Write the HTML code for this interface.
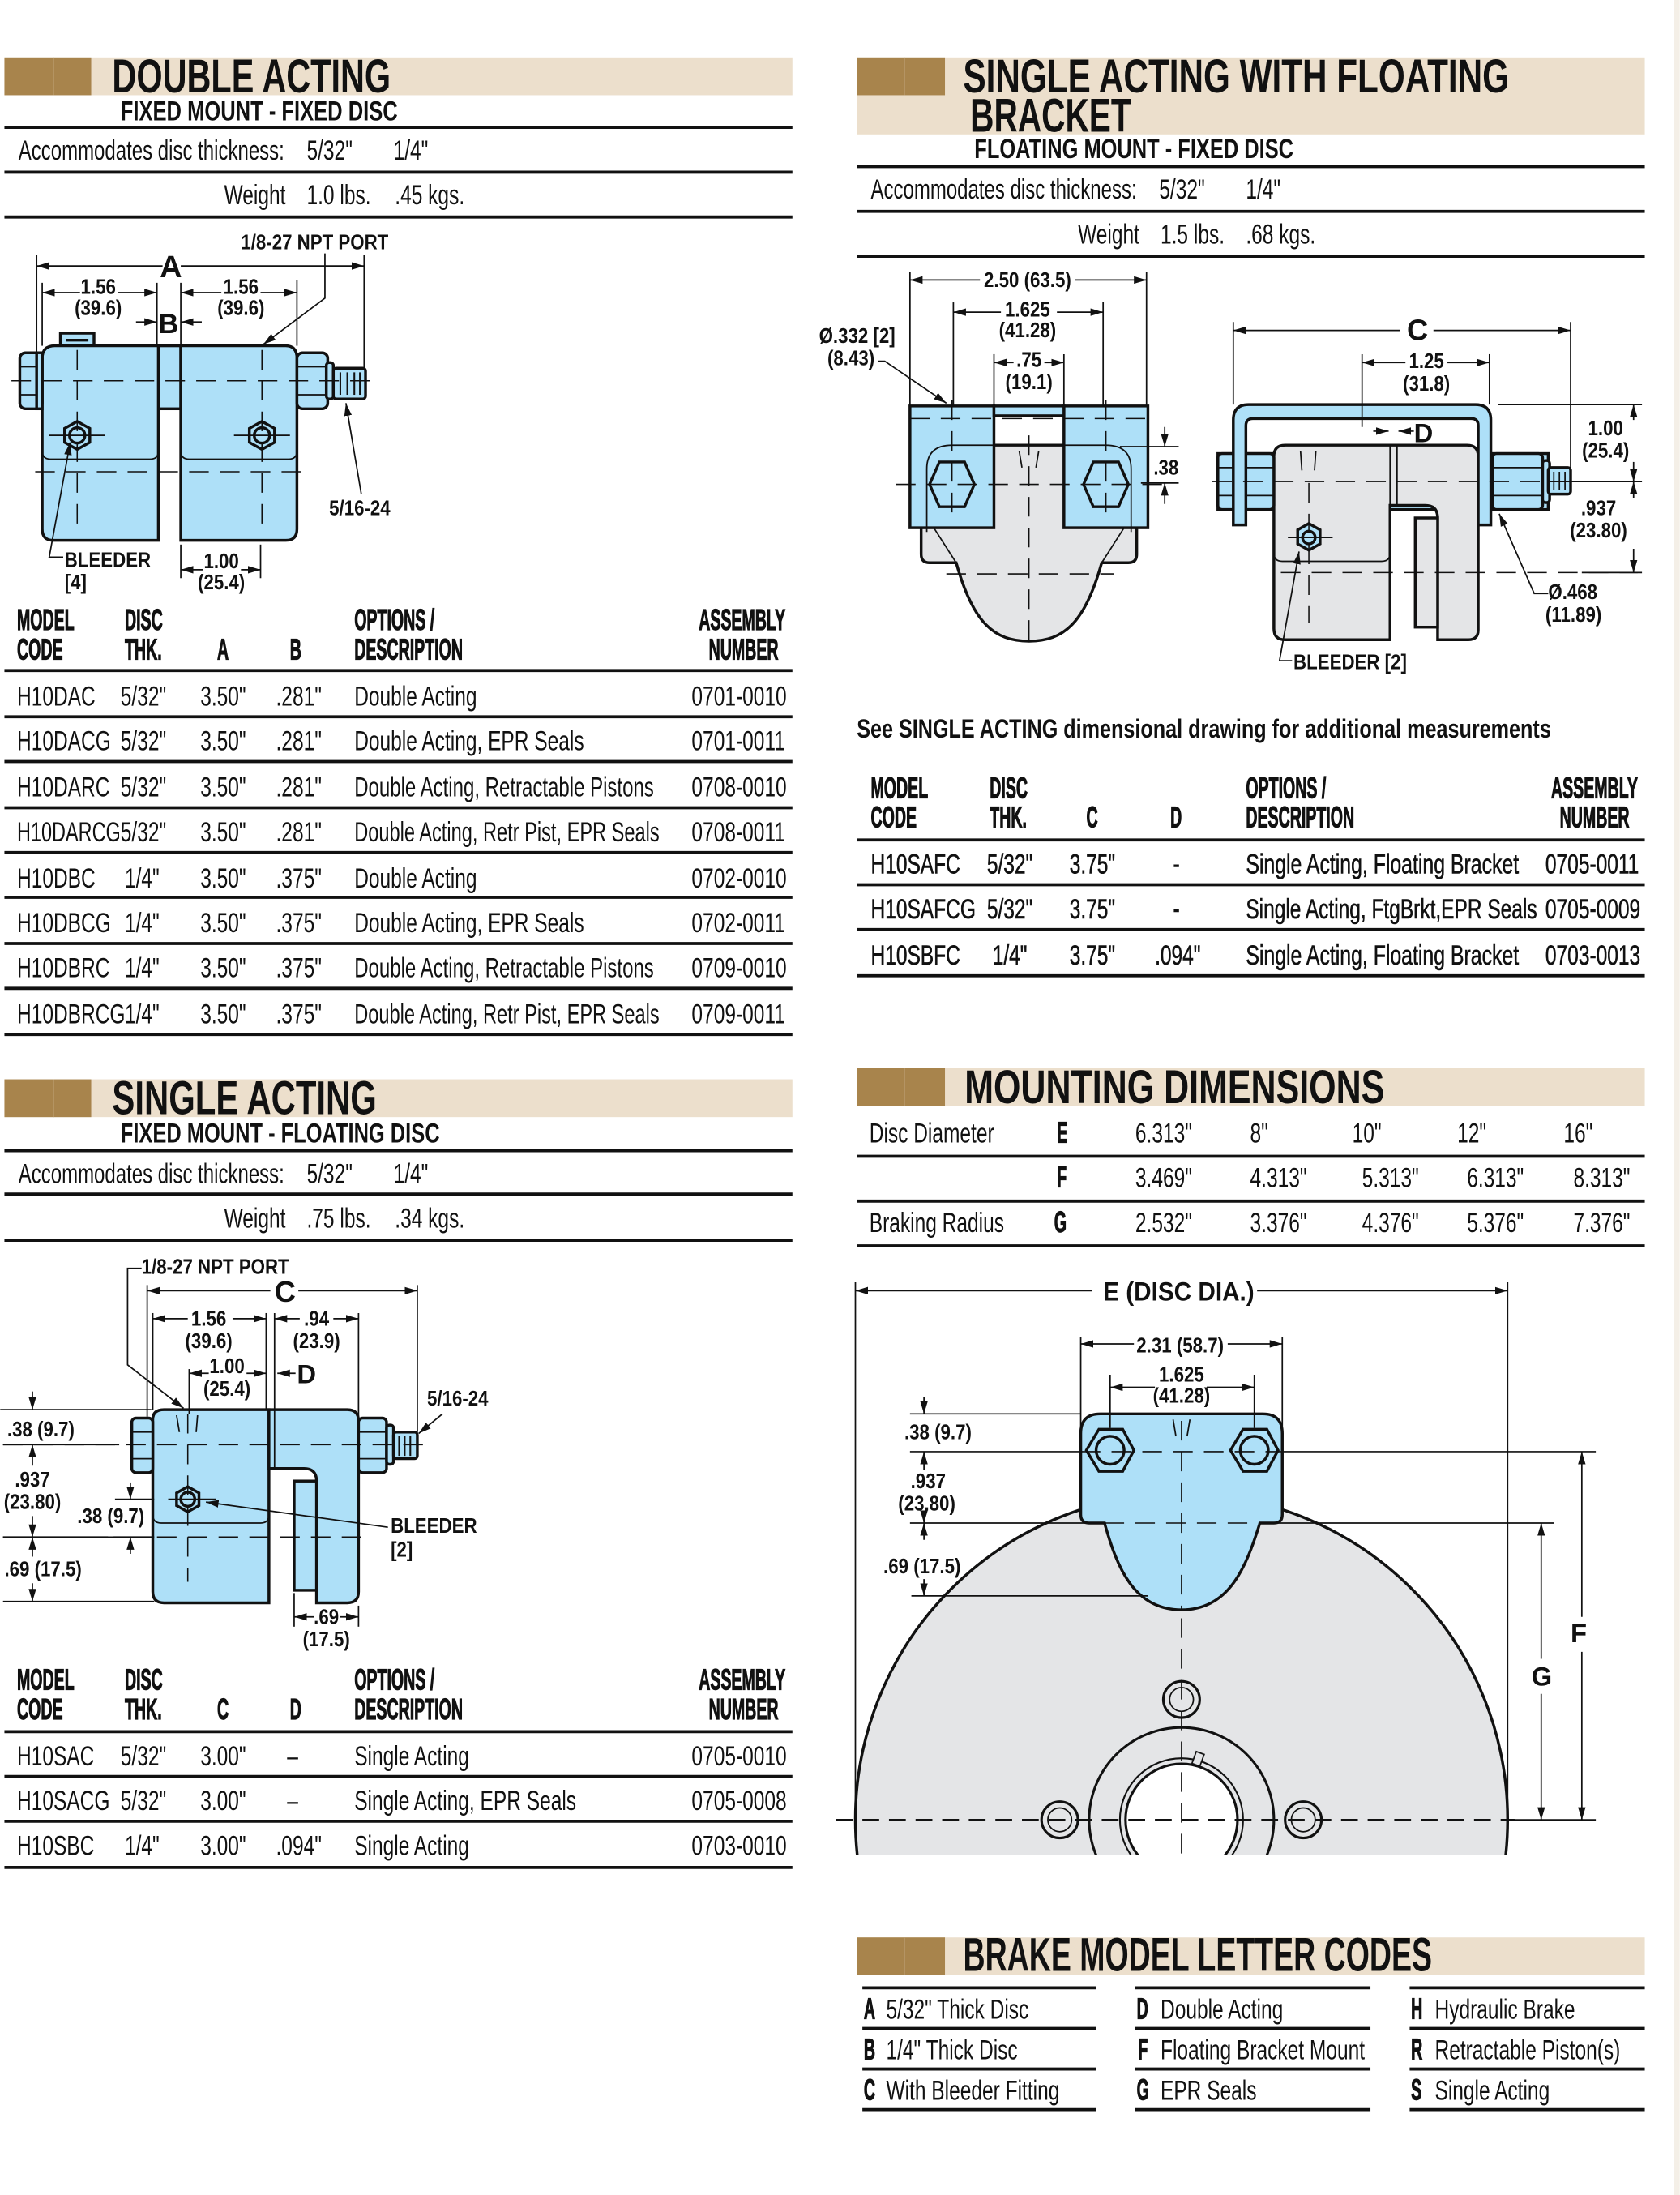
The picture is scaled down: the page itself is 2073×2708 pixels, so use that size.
<!DOCTYPE html>
<html><head><meta charset="utf-8"><style>
html,body{margin:0;padding:0;background:#fff}
svg{display:block}
text{font-family:"Liberation Sans",Arial,sans-serif;fill:#111;transform-box:fill-box;transform-origin:left center}
text[text-anchor="middle"]{transform-origin:center center}
text[text-anchor="end"]{transform-origin:right center}
.r{font-size:20px;transform:scaleX(.71)}
.m{font-size:20px;stroke:#111;stroke-width:.35;transform:scaleX(.71)}
.h{font-size:21px;font-weight:bold;stroke:#111;stroke-width:.7;transform:scaleX(.54)}
.T{font-size:34px;font-weight:bold}
.S{font-size:20px;font-weight:bold}
.d{font-size:15px;font-weight:bold;transform:scaleX(.86)}
text[textLength]{transform:none}
.ln{stroke:#111;stroke-width:2.2}
.th{stroke:#111;stroke-width:1;fill:none}
.dl{stroke:#111;stroke-width:1;fill:none}
.cl{stroke:#111;stroke-width:.9;stroke-dasharray:14 8;fill:none}
.bl{fill:#aee0f8;stroke:#111;stroke-width:2}
.gr{fill:#e4e5e7;stroke:#111;stroke-width:2}
</style></head><body>
<svg width="2073" height="2708" viewBox="0 0 1200 1568" xmlns="http://www.w3.org/2000/svg">
<defs>
<marker id="a" viewBox="0 0 10 6" refX="10" refY="3" markerWidth="9" markerHeight="5.5" markerUnits="userSpaceOnUse" orient="auto-start-reverse"><path d="M0,0 L10,3 L0,6 Z" fill="#111"/></marker>
<clipPath id="cp"><rect x="590" y="900" width="600" height="425"/></clipPath>
</defs>
<rect width="1200" height="1568" fill="#fff"/>

<!-- ============ DOUBLE ACTING ============ -->
<rect x="3" y="41" width="563" height="27" fill="#ecdfcc"/>
<rect x="3" y="41" width="62" height="27" fill="#a8844c"/>
<line x1="38" y1="41" x2="38" y2="68" stroke="#b8996a" stroke-width="1"/>
<text class="T" x="80" y="66" textLength="199" lengthAdjust="spacingAndGlyphs">DOUBLE ACTING</text>
<text class="S" x="86" y="86" textLength="198" lengthAdjust="spacingAndGlyphs">FIXED MOUNT - FIXED DISC</text>
<line class="ln" x1="3" y1="91" x2="566" y2="91"/>
<text class="r" x="13" y="114" textLength="190" lengthAdjust="spacingAndGlyphs">Accommodates disc thickness:</text>
<text class="r" x="219" y="114">5/32"</text><text class="r" x="281" y="114">1/4"</text>
<line class="ln" x1="3" y1="123" x2="566" y2="123"/>
<text class="r" x="160" y="146">Weight</text><text class="r" x="219" y="146">1.0 lbs.</text><text class="r" x="282" y="146">.45 kgs.</text>
<line class="ln" x1="3" y1="155" x2="566" y2="155"/>

<!-- drawing 1 -->
<g>
<rect class="bl" x="43" y="238" width="24" height="10"/>
<line x1="47" y1="243" x2="63" y2="243" stroke="#111" stroke-width="2"/>
<rect class="bl" x="113" y="247" width="16" height="45"/>
<path class="bl" d="M30,256 Q30,247 39,247 L113,247 L113,386 L38,386 Q30,386 30,378 Z"/>
<path class="bl" d="M129,247 L204,247 Q212,247 212,256 L212,378 Q212,386 204,386 L129,386 Z"/>
<path class="th" d="M30,322 Q30,328 36,328 L107,328 Q113,328 113,322"/>
<path class="th" d="M129,322 Q129,328 135,328 L206,328 Q212,328 212,322"/>
<rect class="bl" x="14" y="252" width="16" height="40" rx="4"/>
<line class="th" x1="14" y1="262" x2="30" y2="262"/><line class="th" x1="14" y1="282" x2="30" y2="282"/>
<rect class="bl" x="26" y="252" width="4" height="40"/>
<rect class="bl" x="212" y="252" width="22" height="40" rx="4"/>
<line class="th" x1="212" y1="262" x2="234" y2="262"/><line class="th" x1="212" y1="282" x2="234" y2="282"/>
<rect class="bl" x="233" y="259" width="5" height="26" rx="2"/>
<rect class="bl" x="238" y="263" width="23" height="22" rx="2"/>
<g stroke="#111" stroke-width="1.2"><line x1="243" y1="266" x2="243" y2="282"/><line x1="248" y1="266" x2="248" y2="282"/><line x1="253" y1="266" x2="253" y2="282"/><line x1="257" y1="266" x2="257" y2="282"/></g>
<polygon class="bl" points="55,301 64,306 64,316 55,321 46,316 46,306"/><circle class="bl" cx="55" cy="311" r="5.5"/>
<polygon class="bl" points="187,301 196,306 196,316 187,321 178,316 178,306"/><circle class="bl" cx="187" cy="311" r="5.5"/>
<line class="cl" x1="8" y1="272" x2="268" y2="272"/>
<line class="cl" x1="25" y1="337" x2="218" y2="337"/>
<line class="cl" x1="55" y1="250" x2="55" y2="380"/>
<line class="cl" x1="187" y1="250" x2="187" y2="380"/>
<line class="th" x1="35" y1="311" x2="75" y2="311"/><line class="th" x1="167" y1="311" x2="207" y2="311"/>
<line class="dl" x1="26" y1="182" x2="26" y2="252"/><line class="dl" x1="30" y1="202" x2="30" y2="247"/>
<line class="dl" x1="112" y1="202" x2="112" y2="247"/><line class="dl" x1="129" y1="202" x2="129" y2="247"/>
<line class="dl" x1="212" y1="200" x2="212" y2="247"/><line class="dl" x1="260" y1="182" x2="260" y2="263"/>
<line class="dl" x1="26" y1="190" x2="116" y2="190" marker-start="url(#a)"/>
<line class="dl" x1="129" y1="190" x2="260" y2="190" marker-end="url(#a)"/>
<text x="114" y="198" font-size="22" font-weight="bold">A</text>
<line class="dl" x1="30" y1="209" x2="57" y2="209" marker-start="url(#a)"/><line class="dl" x1="84" y1="209" x2="112" y2="209" marker-end="url(#a)"/>
<text class="d" x="70" y="210" text-anchor="middle">1.56</text><text class="d" x="70" y="225" text-anchor="middle">(39.6)</text>
<line class="dl" x1="129" y1="209" x2="158" y2="209" marker-start="url(#a)"/><line class="dl" x1="186" y1="209" x2="212" y2="209" marker-end="url(#a)"/>
<text class="d" x="172" y="210" text-anchor="middle">1.56</text><text class="d" x="172" y="225" text-anchor="middle">(39.6)</text>
<line class="dl" x1="97" y1="230" x2="112" y2="230" marker-end="url(#a)"/><line class="dl" x1="144" y1="230" x2="129" y2="230" marker-end="url(#a)"/>
<text x="113" y="238" font-size="20" font-weight="bold">B</text>
<text class="d" x="172" y="178">1/8-27 NPT PORT</text>
<polyline class="dl" points="232,181 232,213 188,246" marker-end="url(#a)"/>
<text class="d" x="235" y="368">5/16-24</text>
<line class="dl" x1="258" y1="353" x2="247" y2="288" marker-end="url(#a)"/>
<polyline class="dl" points="45,398 35,398 50,316" marker-end="url(#a)"/>
<text class="d" x="46" y="405">BLEEDER</text><text class="d" x="46" y="421">[4]</text>
<line class="dl" x1="129" y1="389" x2="129" y2="413"/><line class="dl" x1="186" y1="389" x2="186" y2="413"/>
<line class="dl" x1="129" y1="407" x2="145" y2="407" marker-start="url(#a)"/><line class="dl" x1="172" y1="407" x2="186" y2="407" marker-end="url(#a)"/>
<text class="d" x="158" y="406" text-anchor="middle">1.00</text><text class="d" x="158" y="421" text-anchor="middle">(25.4)</text>
</g>

<!-- table 1 -->
<text class="h" x="12" y="450">MODEL</text><text class="h" x="12" y="471">CODE</text>
<text class="h" x="89" y="450">DISC</text><text class="h" x="89" y="471">THK.</text>
<text class="h" x="155" y="471">A</text><text class="h" x="207" y="471">B</text>
<text class="h" x="253" y="450">OPTIONS /</text><text class="h" x="253" y="471">DESCRIPTION</text>
<text class="h" x="561" y="450" text-anchor="end">ASSEMBLY</text><text class="h" x="556" y="471" text-anchor="end">NUMBER</text>
<line class="ln" x1="3" y1="479" x2="566" y2="479"/>
<text class="r" x="12" y="504">H10DAC</text><text class="r" x="86" y="504">5/32"</text><text class="r" x="143" y="504">3.50"</text><text class="r" x="197" y="504">.281"</text><text class="r" x="253" y="504">Double Acting</text><text class="r" x="494" y="504">0701-0010</text>
<text class="r" x="12" y="536">H10DACG</text><text class="r" x="86" y="536">5/32"</text><text class="r" x="143" y="536">3.50"</text><text class="r" x="197" y="536">.281"</text><text class="r" x="253" y="536">Double Acting, EPR Seals</text><text class="r" x="494" y="536">0701-0011</text>
<text class="r" x="12" y="569">H10DARC</text><text class="r" x="86" y="569">5/32"</text><text class="r" x="143" y="569">3.50"</text><text class="r" x="197" y="569">.281"</text><text class="r" x="253" y="569" textLength="214" lengthAdjust="spacingAndGlyphs">Double Acting, Retractable Pistons</text><text class="r" x="494" y="569">0708-0010</text>
<text class="r" x="12" y="601" textLength="74" lengthAdjust="spacingAndGlyphs">H10DARCG</text><text class="r" x="86" y="601">5/32"</text><text class="r" x="143" y="601">3.50"</text><text class="r" x="197" y="601">.281"</text><text class="r" x="253" y="601" textLength="218" lengthAdjust="spacingAndGlyphs">Double Acting, Retr Pist, EPR Seals</text><text class="r" x="494" y="601">0708-0011</text>
<text class="r" x="12" y="634">H10DBC</text><text class="r" x="89" y="634">1/4"</text><text class="r" x="143" y="634">3.50"</text><text class="r" x="197" y="634">.375"</text><text class="r" x="253" y="634">Double Acting</text><text class="r" x="494" y="634">0702-0010</text>
<text class="r" x="12" y="666">H10DBCG</text><text class="r" x="89" y="666">1/4"</text><text class="r" x="143" y="666">3.50"</text><text class="r" x="197" y="666">.375"</text><text class="r" x="253" y="666">Double Acting, EPR Seals</text><text class="r" x="494" y="666">0702-0011</text>
<text class="r" x="12" y="698">H10DBRC</text><text class="r" x="89" y="698">1/4"</text><text class="r" x="143" y="698">3.50"</text><text class="r" x="197" y="698">.375"</text><text class="r" x="253" y="698" textLength="214" lengthAdjust="spacingAndGlyphs">Double Acting, Retractable Pistons</text><text class="r" x="494" y="698">0709-0010</text>
<text class="r" x="12" y="731">H10DBRCG</text><text class="r" x="89" y="731">1/4"</text><text class="r" x="143" y="731">3.50"</text><text class="r" x="197" y="731">.375"</text><text class="r" x="253" y="731" textLength="218" lengthAdjust="spacingAndGlyphs">Double Acting, Retr Pist, EPR Seals</text><text class="r" x="494" y="731">0709-0011</text>
<g class="ln"><line x1="3" y1="512" x2="566" y2="512"/><line x1="3" y1="544" x2="566" y2="544"/><line x1="3" y1="577" x2="566" y2="577"/><line x1="3" y1="609" x2="566" y2="609"/><line x1="3" y1="641" x2="566" y2="641"/><line x1="3" y1="674" x2="566" y2="674"/><line x1="3" y1="706" x2="566" y2="706"/><line x1="3" y1="739" x2="566" y2="739"/></g>

<!-- ============ SINGLE ACTING ============ -->
<rect x="3" y="771" width="563" height="27" fill="#ecdfcc"/>
<rect x="3" y="771" width="62" height="27" fill="#a8844c"/>
<line x1="38" y1="771" x2="38" y2="798" stroke="#b8996a" stroke-width="1"/>
<text class="T" x="80" y="796" textLength="189" lengthAdjust="spacingAndGlyphs">SINGLE ACTING</text>
<text class="S" x="86" y="816" textLength="228" lengthAdjust="spacingAndGlyphs">FIXED MOUNT - FLOATING DISC</text>
<line class="ln" x1="3" y1="822" x2="566" y2="822"/>
<text class="r" x="13" y="845" textLength="190" lengthAdjust="spacingAndGlyphs">Accommodates disc thickness:</text>
<text class="r" x="219" y="845">5/32"</text><text class="r" x="281" y="845">1/4"</text>
<line class="ln" x1="3" y1="853" x2="566" y2="853"/>
<text class="r" x="160" y="877">Weight</text><text class="r" x="219" y="877">.75 lbs.</text><text class="r" x="282" y="877">.34 kgs.</text>
<line class="ln" x1="3" y1="886" x2="566" y2="886"/>

<!-- drawing 2 -->
<g>
<path class="bl" d="M109,1014 Q109,1007 117,1007 L192,1007 L192,1145 L117,1145 Q109,1145 109,1137 Z"/>
<path class="bl" d="M192,1007 L248,1007 Q256,1007 256,1015 L256,1137 Q256,1145 248,1145 L226,1145 L226,1058 Q226,1049 217,1049 L192,1049 Z"/>
<line class="th" x1="196" y1="1007" x2="196" y2="1049"/>
<rect class="bl" x="210" y="1058" width="16" height="78"/>
<path class="th" d="M109,1082 Q109,1088 115,1088 L186,1088 Q192,1088 192,1082"/>
<rect class="bl" x="94" y="1013" width="15" height="39" rx="3"/>
<line class="th" x1="94" y1="1023" x2="109" y2="1023"/><line class="th" x1="94" y1="1042" x2="109" y2="1042"/>
<rect class="bl" x="256" y="1013" width="20" height="39" rx="3"/>
<line class="th" x1="256" y1="1023" x2="276" y2="1023"/><line class="th" x1="256" y1="1042" x2="276" y2="1042"/>
<rect class="bl" x="276" y="1018" width="5" height="28" rx="2"/>
<rect class="bl" x="281" y="1023" width="17" height="19" rx="2"/>
<g stroke="#111" stroke-width="1.2"><line x1="285" y1="1026" x2="285" y2="1040"/><line x1="289" y1="1026" x2="289" y2="1040"/><line x1="293" y1="1026" x2="293" y2="1040"/></g>
<polygon class="bl" points="134,1062 142,1066.5 142,1075.5 134,1080 126,1075.5 126,1066.5"/><circle class="bl" cx="134" cy="1071" r="5"/>
<line class="cl" x1="2" y1="1032" x2="304" y2="1032"/>
<line class="cl" x1="2" y1="1098" x2="260" y2="1098"/>
<line class="cl" x1="134" y1="1010" x2="134" y2="1130"/>
<line class="th" x1="120" y1="1071" x2="154" y2="1071"/>
<g class="th"><line x1="126" y1="1011" x2="128" y2="1023"/><line x1="141" y1="1011" x2="140" y2="1023"/></g>
<line class="dl" x1="105" y1="918" x2="105" y2="1012"/><line class="dl" x1="109" y1="938" x2="109" y2="1007"/>
<line class="dl" x1="190" y1="938" x2="190" y2="1007"/><line class="dl" x1="196" y1="938" x2="196" y2="1007"/>
<line class="dl" x1="256" y1="938" x2="256" y2="1012"/><line class="dl" x1="298" y1="918" x2="298" y2="1023"/>
<line class="dl" x1="135" y1="978" x2="135" y2="1010"/>
<line class="dl" x1="105" y1="922" x2="193" y2="922" marker-start="url(#a)"/><line class="dl" x1="213" y1="922" x2="298" y2="922" marker-end="url(#a)"/>
<text x="196" y="930" font-size="21" font-weight="bold">C</text>
<line class="dl" x1="109" y1="942" x2="134" y2="942" marker-start="url(#a)"/><line class="dl" x1="166" y1="942" x2="190" y2="942" marker-end="url(#a)"/>
<text class="d" x="149" y="947" text-anchor="middle">1.56</text><text class="d" x="149" y="963" text-anchor="middle">(39.6)</text>
<line class="dl" x1="196" y1="942" x2="214" y2="942" marker-start="url(#a)"/><line class="dl" x1="238" y1="942" x2="256" y2="942" marker-end="url(#a)"/>
<text class="d" x="226" y="947" text-anchor="middle">.94</text><text class="d" x="226" y="963" text-anchor="middle">(23.9)</text>
<line class="dl" x1="135" y1="981" x2="149" y2="981" marker-start="url(#a)"/><line class="dl" x1="176" y1="981" x2="190" y2="981" marker-end="url(#a)"/>
<text class="d" x="162" y="981" text-anchor="middle">1.00</text><text class="d" x="162" y="997" text-anchor="middle">(25.4)</text>
<line class="dl" x1="211" y1="981" x2="198" y2="981" marker-end="url(#a)"/>
<text x="212" y="988" font-size="19" font-weight="bold">D</text>
<text class="d" x="101" y="910">1/8-27 NPT PORT</text>
<polyline class="dl" points="101,906 91,906 91,975 131,1006" marker-end="url(#a)"/>
<text class="d" x="305" y="1004">5/16-24</text>
<line class="dl" x1="316" y1="1010" x2="299" y2="1024" marker-end="url(#a)"/>
<line class="dl" x1="0" y1="1007" x2="108" y2="1007"/>
<line class="dl" x1="23" y1="994" x2="23" y2="1007" marker-end="url(#a)"/>
<text class="d" x="5" y="1026">.38 (9.7)</text>
<line class="dl" x1="2" y1="1032" x2="85" y2="1032"/>
<line class="dl" x1="23" y1="1047" x2="23" y2="1032" marker-end="url(#a)"/>
<text class="d" x="23" y="1062" text-anchor="middle">.937</text><text class="d" x="23" y="1078" text-anchor="middle">(23.80)</text>
<line class="dl" x1="23" y1="1083" x2="23" y2="1098" marker-end="url(#a)"/>
<line class="dl" x1="2" y1="1098" x2="77" y2="1098"/>
<line class="dl" x1="23" y1="1112" x2="23" y2="1098" marker-end="url(#a)"/>
<text class="d" x="3" y="1126">.69 (17.5)</text>
<line class="dl" x1="23" y1="1131" x2="23" y2="1144" marker-end="url(#a)"/>
<line class="dl" x1="2" y1="1144" x2="110" y2="1144"/>
<line class="dl" x1="82" y1="1071" x2="110" y2="1071"/>
<line class="dl" x1="93" y1="1059" x2="93" y2="1071" marker-end="url(#a)"/>
<text class="d" x="55" y="1088">.38 (9.7)</text>
<line class="dl" x1="81" y1="1098" x2="110" y2="1098"/>
<line class="dl" x1="93" y1="1110" x2="93" y2="1098" marker-end="url(#a)"/>
<line class="dl" x1="277" y1="1091" x2="147" y2="1073" marker-end="url(#a)"/>
<text class="d" x="279" y="1095">BLEEDER</text><text class="d" x="279" y="1112">[2]</text>
<line class="dl" x1="210" y1="1138" x2="210" y2="1162"/><line class="dl" x1="256" y1="1147" x2="256" y2="1162"/>
<line class="dl" x1="210" y1="1155" x2="224" y2="1155" marker-start="url(#a)"/><line class="dl" x1="243" y1="1155" x2="256" y2="1155" marker-end="url(#a)"/>
<text class="d" x="233" y="1160" text-anchor="middle">.69</text><text class="d" x="233" y="1176" text-anchor="middle">(17.5)</text>
</g>

<!-- table 2 -->
<text class="h" x="12" y="1207">MODEL</text><text class="h" x="12" y="1228">CODE</text>
<text class="h" x="89" y="1207">DISC</text><text class="h" x="89" y="1228">THK.</text>
<text class="h" x="155" y="1228">C</text><text class="h" x="207" y="1228">D</text>
<text class="h" x="253" y="1207">OPTIONS /</text><text class="h" x="253" y="1228">DESCRIPTION</text>
<text class="h" x="561" y="1207" text-anchor="end">ASSEMBLY</text><text class="h" x="556" y="1228" text-anchor="end">NUMBER</text>
<line class="ln" x1="3" y1="1237" x2="566" y2="1237"/>
<text class="r" x="12" y="1261">H10SAC</text><text class="r" x="86" y="1261">5/32"</text><text class="r" x="143" y="1261">3.00"</text><text class="r" x="205" y="1261">–</text><text class="r" x="253" y="1261">Single Acting</text><text class="r" x="494" y="1261">0705-0010</text>
<text class="r" x="12" y="1293">H10SACG</text><text class="r" x="86" y="1293">5/32"</text><text class="r" x="143" y="1293">3.00"</text><text class="r" x="205" y="1293">–</text><text class="r" x="253" y="1293">Single Acting, EPR Seals</text><text class="r" x="494" y="1293">0705-0008</text>
<text class="r" x="12" y="1325">H10SBC</text><text class="r" x="89" y="1325">1/4"</text><text class="r" x="143" y="1325">3.00"</text><text class="r" x="197" y="1325">.094"</text><text class="r" x="253" y="1325">Single Acting</text><text class="r" x="494" y="1325">0703-0010</text>
<g class="ln"><line x1="3" y1="1269" x2="566" y2="1269"/><line x1="3" y1="1301" x2="566" y2="1301"/><line x1="3" y1="1334" x2="566" y2="1334"/></g>

<!-- ============ SINGLE ACTING WITH FLOATING BRACKET ============ -->
<rect x="612" y="41" width="563" height="55" fill="#ecdfcc"/>
<rect x="612" y="41" width="63" height="27" fill="#a8844c"/>
<line x1="646" y1="41" x2="646" y2="68" stroke="#b8996a" stroke-width="1"/>
<text class="T" x="688" y="66" textLength="390" lengthAdjust="spacingAndGlyphs">SINGLE ACTING WITH FLOATING</text>
<text class="T" x="693" y="94" textLength="115" lengthAdjust="spacingAndGlyphs">BRACKET</text>
<text class="S" x="696" y="113" textLength="228" lengthAdjust="spacingAndGlyphs">FLOATING MOUNT - FIXED DISC</text>
<line class="ln" x1="612" y1="119" x2="1175" y2="119"/>
<text class="r" x="622" y="142" textLength="190" lengthAdjust="spacingAndGlyphs">Accommodates disc thickness:</text>
<text class="r" x="828" y="142">5/32"</text><text class="r" x="890" y="142">1/4"</text>
<line class="ln" x1="612" y1="151" x2="1175" y2="151"/>
<text class="r" x="770" y="174">Weight</text><text class="r" x="829" y="174">1.5 lbs.</text><text class="r" x="890" y="174">.68 kgs.</text>
<line class="ln" x1="612" y1="183" x2="1175" y2="183"/>

<!-- drawing 3 left view -->
<g>
<path class="gr" d="M658,330 Q658,318 672,318 L798,318 Q812,318 812,332 L812,396 Q812,402 806,402 L787,402 C 775,445 760,458 735,458 C 710,458 695,445 683,402 L664,402 Q658,402 658,396 Z"/>
<rect class="bl" x="650" y="290" width="60" height="87"/>
<rect class="bl" x="760" y="290" width="60" height="87"/>
<rect x="710" y="290" width="50" height="7" fill="#aee0f8" stroke="#111" stroke-width="2"/>
<path class="th" stroke-width="2" d="M662,380 L662,335 Q662,318 680,318 L790,318 Q808,318 808,335 L808,380" fill="none"/>
<polygon class="bl" points="664,346 671,330 689,330 696,346 689,362 671,362"/>
<polygon class="bl" points="774,346 781,330 799,330 806,346 799,362 781,362"/>
<line class="th" x1="667" y1="377" x2="683" y2="402"/><line class="th" x1="803" y1="377" x2="787" y2="402"/>
<line class="cl" x1="640" y1="346" x2="830" y2="346"/>
<line class="cl" x1="650" y1="299" x2="820" y2="299"/>
<line class="cl" x1="676" y1="410" x2="796" y2="410"/>
<line class="cl" x1="735" y1="311" x2="735" y2="465"/>
<line class="cl" x1="680" y1="286" x2="680" y2="372"/>
<line class="cl" x1="790" y1="286" x2="790" y2="372"/>
<g class="th"><line x1="728" y1="322" x2="730" y2="334"/><line x1="742" y1="322" x2="740" y2="334"/></g>
<line class="dl" x1="650" y1="194" x2="650" y2="290"/><line class="dl" x1="819" y1="194" x2="819" y2="290"/>
<line class="dl" x1="681" y1="216" x2="681" y2="290"/><line class="dl" x1="788" y1="216" x2="788" y2="290"/>
<line class="dl" x1="710" y1="253" x2="710" y2="290"/><line class="dl" x1="760" y1="253" x2="760" y2="290"/>
<line class="dl" x1="650" y1="200" x2="700" y2="200" marker-start="url(#a)"/><line class="dl" x1="768" y1="200" x2="819" y2="200" marker-end="url(#a)"/>
<text class="d" x="734" y="205" text-anchor="middle">2.50 (63.5)</text>
<line class="dl" x1="681" y1="223" x2="715" y2="223" marker-start="url(#a)"/><line class="dl" x1="755" y1="223" x2="788" y2="223" marker-end="url(#a)"/>
<text class="d" x="734" y="226" text-anchor="middle">1.625</text><text class="d" x="734" y="241" text-anchor="middle">(41.28)</text>
<line class="dl" x1="710" y1="259" x2="724" y2="259" marker-start="url(#a)"/><line class="dl" x1="746" y1="259" x2="760" y2="259" marker-end="url(#a)"/>
<text class="d" x="735" y="262" text-anchor="middle">.75</text><text class="d" x="735" y="278" text-anchor="middle">(19.1)</text>
<text class="d" x="585" y="245">Ø.332 [2]</text><text class="d" x="591" y="261">(8.43)</text>
<polyline class="dl" points="627,258 632,258 676,288" marker-end="url(#a)"/>
<line class="dl" x1="800" y1="319" x2="842" y2="319"/><line class="dl" x1="815" y1="345" x2="842" y2="345"/>
<line class="dl" x1="832" y1="305" x2="832" y2="319" marker-end="url(#a)"/>
<line class="dl" x1="832" y1="360" x2="832" y2="345" marker-end="url(#a)"/>
<text class="d" x="824" y="339">.38</text>
</g>

<!-- drawing 3 right view -->
<g>
<rect class="bl" x="870" y="324" width="236" height="40"/>
<path class="gr" d="M910,326 Q910,318 918,318 L1048,318 Q1056,318 1056,326 L1056,450 Q1056,457 1049,457 L1027,457 L1027,370 Q1027,361 1018,361 L993,361 L993,457 L918,457 Q910,457 910,449 Z"/>
<line class="th" x1="993" y1="318" x2="993" y2="361"/><line class="th" x1="998" y1="318" x2="998" y2="361"/>
<rect class="gr" x="1011" y="370" width="16" height="78"/>
<path class="th" d="M910,395 Q910,401 916,401 L987,401 Q993,401 993,395"/>
<rect class="bl" x="870" y="324" width="40" height="40" rx="3"/>
<line class="th" x1="870" y1="334" x2="910" y2="334"/><line class="th" x1="870" y1="354" x2="910" y2="354"/>
<rect class="bl" x="1066" y="324" width="36" height="40" rx="3"/>
<line class="th" x1="1066" y1="334" x2="1102" y2="334"/><line class="th" x1="1066" y1="354" x2="1102" y2="354"/>
<rect class="bl" x="1102" y="329" width="5" height="30" rx="2"/>
<rect class="bl" x="1106" y="334" width="16" height="19" rx="2"/>
<g stroke="#111" stroke-width="1"><line x1="1110" y1="337" x2="1110" y2="350"/><line x1="1114" y1="337" x2="1114" y2="350"/><line x1="1118" y1="337" x2="1118" y2="350"/></g>
<path class="bl" d="M881,375 L881,300 Q881,289 892,289 L1054,289 Q1065,289 1065,300 L1065,375 L1056,375 L1056,304 Q1056,299 1051,299 L895,299 Q890,299 890,304 L890,375 Z"/>
<polygon class="bl" points="935,374 943,378.5 943,388.5 935,393 927,388.5 927,378.5"/><circle class="bl" cx="935" cy="384" r="4.5"/>
<line class="th" x1="920" y1="384" x2="952" y2="384"/>
<line class="cl" x1="866" y1="344" x2="1170" y2="344"/>
<line class="cl" x1="915" y1="409" x2="1170" y2="409"/>
<line class="cl" x1="935" y1="345" x2="935" y2="445"/>
<g class="th"><line x1="929" y1="322" x2="930" y2="336"/><line x1="940" y1="322" x2="939" y2="336"/></g>
<line class="dl" x1="881" y1="230" x2="881" y2="289"/><line class="dl" x1="1122" y1="230" x2="1122" y2="334"/>
<line class="dl" x1="881" y1="236" x2="1000" y2="236" marker-start="url(#a)"/><line class="dl" x1="1024" y1="236" x2="1122" y2="236" marker-end="url(#a)"/>
<text x="1005" y="243" font-size="21" font-weight="bold">C</text>
<line class="dl" x1="973" y1="253" x2="973" y2="305"/><line class="dl" x1="1064" y1="253" x2="1064" y2="289"/>
<line class="dl" x1="973" y1="259" x2="1004" y2="259" marker-start="url(#a)"/><line class="dl" x1="1034" y1="259" x2="1064" y2="259" marker-end="url(#a)"/>
<text class="d" x="1019" y="263" text-anchor="middle">1.25</text><text class="d" x="1019" y="279" text-anchor="middle">(31.8)</text>
<line class="dl" x1="981" y1="308" x2="992" y2="308" marker-end="url(#a)"/><line class="dl" x1="1010" y1="308" x2="999" y2="308" marker-end="url(#a)"/>
<text x="1010" y="316" font-size="19" font-weight="bold">D</text>
<line class="dl" x1="1070" y1="289" x2="1173" y2="289"/>
<line class="dl" x1="1106" y1="344" x2="1173" y2="344"/>
<line class="dl" x1="1130" y1="409" x2="1173" y2="409"/>
<line class="dl" x1="1167" y1="300" x2="1167" y2="289" marker-end="url(#a)"/>
<line class="dl" x1="1167" y1="330" x2="1167" y2="344" marker-end="url(#a)"/>
<line class="dl" x1="1167" y1="356" x2="1167" y2="344" marker-end="url(#a)"/>
<line class="dl" x1="1167" y1="392" x2="1167" y2="409" marker-end="url(#a)"/>
<text class="d" x="1147" y="311" text-anchor="middle">1.00</text><text class="d" x="1147" y="327" text-anchor="middle">(25.4)</text>
<text class="d" x="1142" y="368" text-anchor="middle">.937</text><text class="d" x="1142" y="384" text-anchor="middle">(23.80)</text>
<polyline class="dl" points="1106,424 1096,424 1071,367" marker-end="url(#a)"/>
<text class="d" x="1106" y="428">Ø.468</text><text class="d" x="1104" y="444">(11.89)</text>
<polyline class="dl" points="923,472 914,472 928,394" marker-end="url(#a)"/>
<text class="d" x="924" y="478">BLEEDER [2]</text>
</g>

<text x="612" y="527" font-size="19" font-weight="bold" textLength="496" lengthAdjust="spacingAndGlyphs">See SINGLE ACTING dimensional drawing for additional measurements</text>

<!-- table 3 -->
<text class="h" x="622" y="570">MODEL</text><text class="h" x="622" y="591">CODE</text>
<text class="h" x="707" y="570">DISC</text><text class="h" x="707" y="591">THK.</text>
<text class="h" x="776" y="591">C</text><text class="h" x="836" y="591">D</text>
<text class="h" x="890" y="570">OPTIONS /</text><text class="h" x="890" y="591">DESCRIPTION</text>
<text class="h" x="1170" y="570" text-anchor="end">ASSEMBLY</text><text class="h" x="1164" y="591" text-anchor="end">NUMBER</text>
<line class="ln" x1="612" y1="600" x2="1175" y2="600"/>
<text class="m" x="622" y="624">H10SAFC</text><text class="m" x="705" y="624">5/32"</text><text class="m" x="764" y="624">3.75"</text><text class="m" x="838" y="624">-</text><text class="m" x="890" y="624" textLength="195" lengthAdjust="spacingAndGlyphs">Single Acting, Floating Bracket</text><text class="m" x="1104" y="624">0705-0011</text>
<text class="m" x="622" y="656">H10SAFCG</text><text class="m" x="705" y="656">5/32"</text><text class="m" x="764" y="656">3.75"</text><text class="m" x="838" y="656">-</text><text class="m" x="890" y="656" textLength="208" lengthAdjust="spacingAndGlyphs">Single Acting, FtgBrkt,EPR Seals</text><text class="m" x="1104" y="656">0705-0009</text>
<text class="m" x="622" y="689">H10SBFC</text><text class="m" x="709" y="689">1/4"</text><text class="m" x="764" y="689">3.75"</text><text class="m" x="825" y="689">.094"</text><text class="m" x="890" y="689" textLength="195" lengthAdjust="spacingAndGlyphs">Single Acting, Floating Bracket</text><text class="m" x="1104" y="689">0703-0013</text>
<g class="ln"><line x1="612" y1="632" x2="1175" y2="632"/><line x1="612" y1="664" x2="1175" y2="664"/><line x1="612" y1="697" x2="1175" y2="697"/></g>

<!-- ============ MOUNTING DIMENSIONS ============ -->
<rect x="612" y="763" width="563" height="27" fill="#ecdfcc"/>
<rect x="612" y="763" width="63" height="27" fill="#a8844c"/>
<line x1="646" y1="763" x2="646" y2="790" stroke="#b8996a" stroke-width="1"/>
<text class="T" x="689" y="788" textLength="300" lengthAdjust="spacingAndGlyphs">MOUNTING DIMENSIONS</text>
<text class="r" x="621" y="816">Disc Diameter</text><text class="h" x="755" y="816">E</text>
<text class="r" x="811" y="816">6.313"</text><text class="r" x="893" y="816">8"</text><text class="r" x="966" y="816">10"</text><text class="r" x="1041" y="816">12"</text><text class="r" x="1117" y="816">16"</text>
<line class="ln" x1="612" y1="826" x2="1175" y2="826"/>
<text class="h" x="755" y="848">F</text>
<text class="r" x="811" y="848">3.469"</text><text class="r" x="893" y="848">4.313"</text><text class="r" x="973" y="848">5.313"</text><text class="r" x="1048" y="848">6.313"</text><text class="r" x="1124" y="848">8.313"</text>
<line class="ln" x1="612" y1="858" x2="1175" y2="858"/>
<text class="r" x="621" y="880">Braking Radius</text><text class="h" x="753" y="880">G</text>
<text class="r" x="811" y="880">2.532"</text><text class="r" x="893" y="880">3.376"</text><text class="r" x="973" y="880">4.376"</text><text class="r" x="1048" y="880">5.376"</text><text class="r" x="1124" y="880">7.376"</text>
<line class="ln" x1="612" y1="890" x2="1175" y2="890"/>

<!-- disc drawing -->
<g clip-path="url(#cp)">
<circle cx="844" cy="1300" r="233" fill="#e4e5e7" stroke="#111" stroke-width="2"/>
<circle cx="844" cy="1214" r="13" fill="#e4e5e7" stroke="#111" stroke-width="1.8"/><circle cx="844" cy="1214" r="8.5" fill="none" stroke="#111" stroke-width="1"/>
<circle cx="844" cy="1300" r="66" fill="#e4e5e7" stroke="#111" stroke-width="1.8"/>
<circle cx="844" cy="1300" r="44" fill="#e4e5e7" stroke="#111" stroke-width="1.2"/>
<circle cx="844" cy="1300" r="40" fill="#fff" stroke="#111" stroke-width="1.8"/>
<rect x="853" y="1252" width="6" height="9" fill="#e4e5e7" stroke="#111" stroke-width="1" transform="rotate(20 856 1256)"/>
<circle cx="757" cy="1300" r="13" fill="#e4e5e7" stroke="#111" stroke-width="1.8"/><circle cx="757" cy="1300" r="8.5" fill="none" stroke="#111" stroke-width="1"/>
<circle cx="931" cy="1300" r="13" fill="#e4e5e7" stroke="#111" stroke-width="1.8"/><circle cx="931" cy="1300" r="8.5" fill="none" stroke="#111" stroke-width="1"/>
<line x1="597" y1="1300" x2="1082" y2="1300" stroke="#111" stroke-width="1.4" stroke-dasharray="12 7"/>
<line class="cl" x1="844" y1="1090" x2="844" y2="1325"/>
</g>
<path class="bl" d="M772,1024 Q772,1010 786,1010 L902,1010 Q916,1010 916,1024 L916,1082 Q916,1088 910,1088 L900,1088 C 890,1120 878,1150 844,1150 C 810,1150 798,1120 789,1088 L778,1088 Q772,1088 772,1082 Z"/>
<polygon class="bl" points="776,1036 785,1021 802,1021 810,1036 802,1051 785,1051"/><circle class="bl" cx="793" cy="1036" r="10"/>
<polygon class="bl" points="879,1036 888,1021 905,1021 913,1036 905,1051 888,1051"/><circle class="bl" cx="896" cy="1036" r="10"/>
<line class="cl" x1="844" y1="1015" x2="844" y2="1150"/>
<line class="cl" x1="772" y1="1037" x2="916" y2="1037"/>
<line class="cl" x1="789" y1="1088" x2="900" y2="1088"/>
<g class="th"><line x1="838" y1="1014" x2="840" y2="1026"/><line x1="850" y1="1014" x2="848" y2="1026"/></g>
<line class="dl" x1="611" y1="916" x2="611" y2="1300"/><line class="dl" x1="1077" y1="916" x2="1077" y2="1300"/>
<line class="dl" x1="611" y1="922" x2="780" y2="922" marker-start="url(#a)"/><line class="dl" x1="898" y1="922" x2="1077" y2="922" marker-end="url(#a)"/>
<text x="788" y="929" font-size="19" font-weight="bold" textLength="108" lengthAdjust="spacingAndGlyphs">E (DISC DIA.)</text>
<line class="dl" x1="772" y1="955" x2="772" y2="1020"/><line class="dl" x1="916" y1="955" x2="916" y2="1020"/>
<line class="dl" x1="772" y1="960" x2="810" y2="960" marker-start="url(#a)"/><line class="dl" x1="877" y1="960" x2="916" y2="960" marker-end="url(#a)"/>
<text class="d" x="843" y="966" text-anchor="middle">2.31 (58.7)</text>
<line class="dl" x1="793" y1="982" x2="793" y2="1020"/><line class="dl" x1="896" y1="982" x2="896" y2="1020"/>
<line class="dl" x1="793" y1="991" x2="825" y2="991" marker-start="url(#a)"/><line class="dl" x1="862" y1="991" x2="896" y2="991" marker-end="url(#a)"/>
<text class="d" x="844" y="987" text-anchor="middle">1.625</text><text class="d" x="844" y="1002" text-anchor="middle">(41.28)</text>
<line class="dl" x1="650" y1="1010" x2="772" y2="1010"/>
<line class="dl" x1="660" y1="998" x2="660" y2="1010" marker-end="url(#a)"/>
<text class="d" x="646" y="1028">.38 (9.7)</text>
<line class="dl" x1="650" y1="1037" x2="773" y2="1037"/>
<line class="dl" x1="660" y1="1050" x2="660" y2="1037" marker-end="url(#a)"/>
<text class="d" x="663" y="1063" text-anchor="middle">.937</text><text class="d" x="662" y="1079" text-anchor="middle">(23.80)</text>
<line class="dl" x1="660" y1="1081" x2="660" y2="1088" marker-end="url(#a)"/>
<line class="dl" x1="650" y1="1088" x2="790" y2="1088"/>
<line class="dl" x1="660" y1="1100" x2="660" y2="1088" marker-end="url(#a)"/>
<text class="d" x="631" y="1124">.69 (17.5)</text>
<line class="dl" x1="660" y1="1128" x2="660" y2="1140" marker-end="url(#a)"/>
<line class="dl" x1="651" y1="1140" x2="820" y2="1140"/>
<line class="dl" x1="916" y1="1037" x2="1140" y2="1037"/>
<line class="dl" x1="900" y1="1088" x2="1110" y2="1088"/>
<line class="dl" x1="1080" y1="1300" x2="1140" y2="1300"/>
<line class="dl" x1="1130" y1="1155" x2="1130" y2="1037" marker-end="url(#a)"/>
<line class="dl" x1="1130" y1="1180" x2="1130" y2="1300" marker-end="url(#a)"/>
<text x="1122" y="1173" font-size="19" font-weight="bold">F</text>
<line class="dl" x1="1101" y1="1185" x2="1101" y2="1088" marker-end="url(#a)"/>
<line class="dl" x1="1101" y1="1210" x2="1101" y2="1300" marker-end="url(#a)"/>
<text x="1094" y="1204" font-size="19" font-weight="bold">G</text>

<!-- ============ BRAKE MODEL LETTER CODES ============ -->
<rect x="612" y="1384" width="563" height="27" fill="#ecdfcc"/>
<rect x="612" y="1384" width="63" height="27" fill="#a8844c"/>
<line x1="646" y1="1384" x2="646" y2="1411" stroke="#b8996a" stroke-width="1"/>
<text class="T" x="688" y="1408" textLength="335" lengthAdjust="spacingAndGlyphs">BRAKE MODEL LETTER CODES</text>
<g class="ln">
<line x1="616" y1="1420" x2="783" y2="1420"/><line x1="811" y1="1420" x2="979" y2="1420"/><line x1="1007" y1="1420" x2="1175" y2="1420"/>
<line x1="616" y1="1449" x2="783" y2="1449"/><line x1="811" y1="1449" x2="979" y2="1449"/><line x1="1007" y1="1449" x2="1175" y2="1449"/>
<line x1="616" y1="1478" x2="783" y2="1478"/><line x1="811" y1="1478" x2="979" y2="1478"/><line x1="1007" y1="1478" x2="1175" y2="1478"/>
<line x1="616" y1="1507" x2="783" y2="1507"/><line x1="811" y1="1507" x2="979" y2="1507"/><line x1="1007" y1="1507" x2="1175" y2="1507"/>
</g>
<text class="h" x="617" y="1442">A</text><text class="r" x="633" y="1442">5/32" Thick Disc</text>
<text class="h" x="617" y="1471">B</text><text class="r" x="633" y="1471">1/4" Thick Disc</text>
<text class="h" x="617" y="1500">C</text><text class="r" x="633" y="1500">With Bleeder Fitting</text>
<text class="h" x="812" y="1442">D</text><text class="r" x="829" y="1442">Double Acting</text>
<text class="h" x="813" y="1471">F</text><text class="r" x="829" y="1471">Floating Bracket Mount</text>
<text class="h" x="812" y="1500">G</text><text class="r" x="829" y="1500">EPR Seals</text>
<text class="h" x="1008" y="1442">H</text><text class="r" x="1025" y="1442">Hydraulic Brake</text>
<text class="h" x="1008" y="1471">R</text><text class="r" x="1025" y="1471">Retractable Piston(s)</text>
<text class="h" x="1008" y="1500">S</text><text class="r" x="1025" y="1500">Single Acting</text>
<rect x="1196" y="0" width="4" height="1568" fill="#f4efe7"/>
</svg>
</body></html>
